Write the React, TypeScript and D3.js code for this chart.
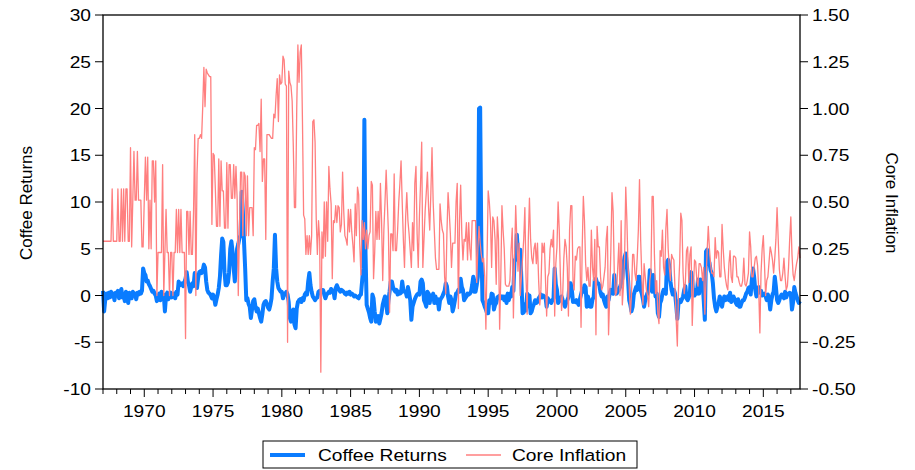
import React from "react";
import * as d3 from "d3";

// Monthly observations, 1967:01 – 2017:09
const coffee1960s = [
  0.5, -1.7, -0.4, 0.2, -0.3, 0.3, -0.2, 0.4, -0.1, 0.2, -0.5, 0.3,
  0.0, 0.5, -0.3, 0.2, 0.7, -0.2, 0.1, -0.6, 0.4, 0.1, -0.8, 0.3,
  0.2, -0.3, 0.4, 0.0, 0.2, -0.4, 0.3, 0.1, 0.4, 0.2, 0.5, 2.9,
];
const coffee1970s = [
  2.4, 2.2, 1.5, 1.6, 1.2, 1.0, 0.7, 0.4, 0.5, 0.2, 0.0, -0.6,
  -0.3, 0.2, -0.5, 0.4, -0.2, 0.1, -1.7, 0.0, 0.3, -0.4, 0.1, 0.3,
  -0.2, 0.0, 0.2, -0.3, 0.4, 0.1, 1.5, 1.1, 1.2, 1.3, 1.0, 1.4,
  1.8, 2.5, 1.5, 1.1, 0.4, 0.9, 1.3, 1.0, 2.4, 1.5, 0.8, 1.9,
  2.5, 2.6, 2.4, 2.7, 3.3, 3.0, 1.5, 0.6, 0.3, 0.2, 0.0, -0.3,
  0.1, -0.3, -1.0, -0.4, 0.1, 0.8, 2.0, 4.3, 6.1, 5.7, 2.5, 1.1,
  1.1, 1.4, 2.5, 5.0, 5.8, 4.7, 2.9, 1.5, 3.5, 5.0, 5.5, 6.1,
  6.5, 11.1, 9.0, 5.8, 2.9, -0.5, -0.3, -0.9, -1.2, -2.4, -1.5, -0.6,
  -0.4, -1.2, -1.7, -1.4, -1.9, -2.4, -2.8, -2.0, -1.0, -0.7, -0.6, -0.9,
  -1.3, -1.5, -1.0, -0.3, 1.5, 2.9, 6.5, 2.9, 1.5, 0.8, 0.6, 0.4,
];
const coffee1980s = [
  0.4, -0.3, 0.1, 0.2, 0.4, 0.1, -0.7, -2.4, -2.8, -1.7, -1.5, -3.1,
  -3.5, -1.4, -0.7, -0.5, -0.4, -0.7, -0.3, -0.5, 0.1, 0.3, 0.1, 1.5,
  2.4, 1.1, 0.4, -0.1, -0.3, -0.5, -0.3, -0.2, 0.4, 0.5, 0.4, 0.6,
  0.6, 0.1, -0.3, 0.1, 0.2, 0.4, 0.3, 0.7, 0.4, 0.5, -0.3, 0.8,
  1.1, 0.8, 0.6, 0.4, 0.6, 0.5, 0.4, 0.2, 0.1, 0.3, 0.2, 0.4,
  0.1, 0.2, 0.1, -0.1, 0.0, -0.1, -0.2, -0.3, 0.0, 0.1, 1.5, 2.9,
  18.8, 4.5, -1.0, -1.4, -1.8, -2.4, -2.8, 0.1, -0.3, -1.7, -2.8, -2.4,
  -2.2, -3.0, -2.5, -1.9, -1.0, -0.5, -0.1, -0.8, -1.9, -0.5, 0.4, 1.5,
  1.5, 0.9, 0.6, 0.4, 0.6, 0.1, 0.4, 0.2, 0.3, 1.5, 0.6, 0.4,
  0.4, -0.1, 0.9, 0.3, -0.5, -2.6, -1.2, -0.8, -0.4, -0.1, 0.1, 0.2,
];
const coffee1990s = [
  0.1, 1.5, 1.7, 1.3, -0.5, -0.8, -1.2, 0.4, 0.2, -0.8, 0.0, -0.3,
  0.2, -0.8, -0.1, -0.8, -0.4, -1.5, -0.5, -0.3, -0.1, 0.2, 0.5, 1.3,
  1.0, -0.1, -0.8, -0.1, -0.5, -1.7, -1.2, -0.5, 0.2, 0.3, 0.6, 0.4,
  1.8, 0.9, 0.6, -0.5, -0.3, -0.1, 0.2, 0.1, 0.2, 0.4, 1.1, 2.0,
  0.4, 0.4, 1.1, 2.0, 20.0, 20.1, 5.9, -0.5, -0.8, -1.2, -1.5, -1.9,
  -1.9, -0.5, -0.8, 0.2, 0.1, -1.5, -1.0, -0.8, -0.2, -0.1, 0.0, -0.3,
  -0.1, -0.1, -0.5, -0.1, -0.8, 0.2, -0.5, 0.2, -0.1, 0.9, 0.5, 3.8,
  3.8, 6.5, 4.5, 3.8, 4.9, 1.5, -1.9, -1.8, -0.9, -1.6, 0.2, 0.0,
  0.0, -1.9, -1.7, -1.2, -0.9, -0.5, -0.8, -0.7, -0.3, -0.1, 0.1, -0.2,
  0.0, -0.1, -0.2, -1.2, -0.3, -0.5, -0.6, -0.8, -0.5, -0.3, 2.9, 1.2,
];
const coffee2000s = [
  0.6, -0.8, -0.6, -0.5, -0.1, -0.5, -0.8, -1.2, -0.8, -0.5, -0.2, 1.3,
  1.3, 0.6, -0.7, -0.6, -0.7, -0.5, -0.8, -1.0, -0.4, 0.1, 0.6, 0.4,
  1.1, 0.9, -1.2, -0.1, -0.6, -1.2, -1.2, -0.4, -0.2, 1.7, 1.8, 1.3,
  1.3, 1.1, 0.3, -0.1, 0.1, -0.5, -0.9, -1.2, -0.1, -0.5, 0.2, 0.6,
  0.3, 0.2, 2.2, 0.9, 0.2, 0.4, 0.6, 0.9, 1.3, 1.8, 3.4, 4.1,
  4.5, 3.1, 1.7, -0.5, -1.0, -1.7, -1.2, 0.1, 0.5, 0.9, 0.6, 2.0,
  2.0, 0.6, 0.2, -0.4, -1.2, -0.5, -0.1, 0.3, 0.6, 2.7, 1.3, 0.4,
  2.2, 1.0, -0.1, 0.2, -1.9, -2.3, -0.8, -0.5, 0.2, 0.6, 0.3, 0.2,
  3.6, 3.8, 3.1, 1.5, 0.6, 0.1, 0.6, 0.2, -1.0, -2.5, -0.8, -0.5,
  -0.7, -0.4, -0.1, 0.6, 1.0, -0.3, -0.5, -0.2, 0.3, 2.5, 1.7, 0.0,
];
const coffee2010s = [
  0.0, 0.6, 0.2, 1.7, 0.2, 1.7, 1.0, 1.7, -0.5, -2.6, 4.7, 4.9,
  3.8, 3.5, 2.7, 2.4, 1.3, -0.3, -1.2, -1.7, -1.2, -0.8, -0.1, -0.5,
  -1.2, -0.5, -0.1, -0.5, -0.3, -0.1, -0.5, 0.3, -0.7, -0.5, -0.1, -0.4,
  -0.8, -1.0, -0.4, -1.2, -1.2, -0.8, -0.5, -0.5, -0.2, 0.2, 0.4, 0.8,
  0.9, 0.1, 1.7, 2.9, 2.0, 0.6, -0.1, 0.6, 0.9, 0.3, 0.5, 0.0,
  0.1, 0.2, -0.1, -0.5, 0.1, -0.3, -1.5, -0.5, 0.1, 0.4, 2.0, 0.9,
  -0.5, -0.8, -0.5, -0.1, 0.1, -0.1, -0.3, 0.4, -0.2, 0.1, 0.2, 0.3,
  0.2, -1.5, -0.7, 0.9, 0.3, -0.1, -0.5, -0.8, -0.6,
];

const inflation1960s = [
  0.29, 0.29, 0.29, 0.29, 0.29, 0.29, 0.29, 0.29, 0.57, 0.29, 0.29, 0.29,
  0.29, 0.57, 0.29, 0.29, 0.57, 0.29, 0.57, 0.29, 0.57, 0.57, 0.29, 0.29,
  0.79, 0.26, 0.51, 0.77, 0.51, 0.51, 0.77, 0.51, 0.51, 0.51, 0.26, 0.26,
];
const inflation1970s = [
  0.51, 0.74, 0.51, 0.74, 0.25, 0.51, 0.25, 0.72, 0.72, 0.5, 0.72, 0.0,
  0.23, 0.23, 0.23, 0.23, 0.7, 0.0, 0.23, 0.46, 0.23, 0.23, 0.0, 0.23,
  0.23, 0.0, 0.23, 0.23, 0.46, 0.23, 0.46, 0.23, 0.46, 0.23, 0.23, 0.23,
  -0.23, 0.45, 0.45, 0.22, 0.45, 0.22, 0.22, 0.45, 0.86, 0.0, 0.65, 0.84,
  0.84, 0.86, 0.84, 1.01, 1.22, 1.01, 1.21, 1.19, 1.18, 1.17, 1.17, 0.38,
  0.76, 0.75, 0.57, 0.37, 0.37, 0.73, 0.37, 0.72, 0.56, 0.56, 0.36, 0.36,
  0.71, 0.36, 0.7, 0.7, 0.52, 0.52, 0.7, 0.52, 0.69, 0.52, 0.0, 0.34,
  0.66, 0.66, 0.32, 0.66, 0.64, 0.32, 0.64, 0.32, 0.47, 0.47, 0.47, 0.32,
  0.79, 0.78, 0.91, 0.91, 0.92, 0.77, 1.05, 0.61, 0.73, 0.73, 0.3, 0.86,
  0.86, 0.86, 0.85, 0.84, 0.84, 0.97, 0.95, 1.07, 1.16, 0.93, 1.18, 1.13,
];
const inflation1980s = [
  1.14, 1.28, 1.26, 1.13, 1.12, -0.25, 1.2, 1.14, 1.12, 1.04, 0.8, 0.47,
  0.47, 1.0, 1.34, 1.14, 1.3, 1.34, 0.93, 0.43, 0.41, 0.22, 0.32, 0.22,
  0.32, 0.22, 0.32, 0.93, 0.94, 0.82, 0.41, 0.22, 0.4, 0.3, -0.41, 0.34,
  0.2, 0.5, 0.21, 0.5, 0.29, 0.69, 0.57, 0.49, 0.09, 0.4, 0.39, 0.48,
  0.39, 0.48, 0.47, 0.34, 0.38, 0.66, 0.45, 0.32, 0.3, 0.27, 0.46, 0.34,
  0.46, 0.34, 0.27, 0.18, 0.49, 0.32, 0.58, 0.54, 0.27, 0.11, 0.4, 0.3,
  0.39, 0.25, 0.35, 0.25, 0.32, 0.34, 0.61, 0.59, 0.09, 0.23, 0.45, 0.3,
  0.45, 0.3, 0.6, 0.4, 0.08, 0.35, 0.5, 0.67, 0.5, 0.33, -0.09, 0.33,
  0.33, 0.24, 0.65, 0.24, 0.24, 0.35, 0.5, 0.6, 0.72, 0.5, 0.3, 0.15,
  0.42, 0.55, 0.4, 0.33, 0.24, 0.15, 0.39, 0.24, 0.6, 0.69, 0.33, 0.15,
];
const inflation1990s = [
  0.42, 0.6, 0.82, 0.15, 0.3, 0.45, 0.55, 0.66, 0.47, 0.35, 0.55, 0.79,
  0.5, 0.35, 0.2, 0.14, 0.14, 0.14, 0.49, 0.4, 0.35, 0.33, 0.1, 0.01,
  0.33, 0.55, 0.45, 0.33, 0.15, 0.28, 0.28, 0.28, 0.5, 0.6, -0.07, 0.4,
  0.59, 0.33, 0.19, 0.3, 0.29, 0.39, 0.19, 0.39, 0.25, 0.19, 0.4, 0.4,
  0.4, 0.4, 0.07, 0.25, 0.37, 0.28, 0.22, 0.18, 0.2, 0.1, -0.18, 0.2,
  0.56, 0.5, 0.4, 0.15, 0.42, 0.4, 0.3, 0.06, 0.42, 0.3, -0.18, 0.1,
  0.48, 0.35, 0.25, 0.06, 0.05, 0.05, 0.05, 0.08, 0.25, 0.36, -0.12, 0.2,
  0.48, 0.3, 0.13, 0.28, 0.0, 0.1, 0.2, 0.3, 0.47, 0.1, -0.1, 0.3,
  0.52, 0.3, 0.2, 0.17, 0.25, 0.28, 0.17, 0.28, 0.08, -0.05, 0.03, 0.28,
  0.23, 0.28, 0.08, -0.11, 0.1, 0.12, 0.25, 0.3, 0.26, 0.35, -0.11, 0.17,
];
const inflation2000s = [
  0.26, 0.5, 0.35, 0.1, -0.08, 0.0, 0.2, 0.3, 0.26, 0.15, -0.11, 0.35,
  0.48, 0.48, 0.08, 0.03, 0.21, 0.19, 0.25, 0.26, 0.26, -0.17, 0.25, 0.53,
  0.4, 0.17, 0.08, 0.15, 0.05, 0.05, 0.35, 0.15, 0.08, 0.3, -0.21, 0.37,
  0.26, 0.26, 0.1, 0.03, 0.05, 0.1, 0.15, 0.3, 0.37, -0.21, 0.0, 0.24,
  0.55, 0.45, 0.12, 0.0, 0.02, 0.15, 0.28, 0.0, 0.4, -0.05, 0.05, 0.2,
  0.58, 0.4, 0.15, 0.05, -0.1, 0.0, 0.22, 0.22, 0.12, 0.08, 0.2, 0.35,
  0.62, 0.3, 0.1, -0.05, 0.17, 0.1, 0.03, 0.0, -0.06, 0.08, 0.13, 0.53,
  0.53, 0.22, 0.01, 0.08, -0.1, -0.15, 0.24, 0.21, 0.35, 0.15, 0.11, 0.36,
  0.46, 0.25, 0.15, 0.08, 0.22, 0.2, 0.19, 0.03, -0.13, -0.27, 0.03, 0.17,
  0.44, 0.4, 0.12, 0.01, 0.07, 0.24, 0.26, 0.07, 0.22, 0.26, -0.16, 0.03,
];
const inflation2010s = [
  0.19, 0.18, 0.08, 0.05, 0.17, 0.17, 0.15, 0.08, 0.15, -0.1, 0.08, 0.24,
  0.37, 0.25, 0.17, 0.12, 0.12, 0.1, 0.31, 0.2, 0.24, 0.23, 0.1, 0.1,
  0.38, 0.25, 0.15, 0.09, 0.05, 0.03, 0.17, 0.24, 0.1, 0.07, 0.21, 0.21,
  0.2, 0.1, 0.1, 0.07, 0.05, 0.05, 0.08, 0.2, 0.06, 0.05, 0.08, 0.12,
  0.34, 0.26, 0.1, 0.1, 0.15, 0.2, 0.21, 0.16, 0.03, -0.2, 0.12, 0.25,
  0.32, 0.17, 0.0, 0.08, 0.1, 0.18, 0.26, 0.23, 0.19, 0.12, 0.2, 0.3,
  0.47, 0.3, 0.14, 0.08, 0.08, 0.12, 0.2, 0.1, 0.03, 0.05, 0.15, 0.3,
  0.42, 0.22, 0.11, 0.08, 0.13, 0.17, 0.2, 0.26, 0.2,
];

const startYear = 1967;
const leftTicks = [-10, -5, 0, 5, 10, 15, 20, 25, 30];
const rightTicks = [-0.5, -0.25, 0, 0.25, 0.5, 0.75, 1.0, 1.25, 1.5];
const yearLabels = [1970, 1975, 1980, 1985, 1990, 1995, 2000, 2005, 2010, 2015];
const seriesNames = ["Coffee Returns", "Core Inflation"];

const coffee = [...coffee1960s, ...coffee1970s, ...coffee1980s, ...coffee1990s, ...coffee2000s, ...coffee2010s];
const inflation = [...inflation1960s, ...inflation1970s, ...inflation1980s, ...inflation1990s, ...inflation2000s, ...inflation2010s];

const W = 915;
const H = 470;
const M = { left: 103, right: 800, top: 15, bottom: 389 };
const BLUE = "#0a7cff";
const RED = "#ff7f7f";
const FONT = "Arial, 'Liberation Sans', sans-serif";
const FS = 17;
const SX = 1.13;

export default function App() {
  const n = Math.min(coffee.length, inflation.length);
  const x = d3.scaleLinear().domain([startYear, startYear + (n - 1) / 12]).range([M.left, M.right]);
  const yL = d3.scaleLinear().domain([-10, 30]).range([M.bottom, M.top]);
  const yR = d3.scaleLinear().domain([-0.5, 1.5]).range([M.bottom, M.top]);

  const lineL = d3.line<number>().x((_, i) => x(startYear + i / 12)).y((d) => yL(d));
  const lineR = d3.line<number>().x((_, i) => x(startYear + i / 12)).y((d) => yR(d));

  const lastYear = Math.floor(startYear + (n - 1) / 12);
  const years = d3.range(startYear, lastYear + 1);

  const txt = (key: string, tx: number, ty: number, s: string, anchor: string, extra: any = {}) => (
    <text
      key={key}
      transform={`translate(${tx},${ty}) scale(${SX},1)`}
      textAnchor={anchor}
      fontSize={FS}
      fontFamily={FONT}
      fill="#000"
      {...extra}
    >
      {s}
    </text>
  );

  return (
    <svg width={W} height={H} style={{ position: "absolute", left: 0, top: 0, background: "#fff" }}>
      <rect x={0} y={0} width={W} height={H} fill="#fff" />
      {/* series */}
      <path d={lineL(coffee.slice(0, n)) || ""} fill="none" stroke={BLUE} strokeWidth={4} strokeLinejoin="round" />
      <path d={lineR(inflation.slice(0, n)) || ""} fill="none" stroke={RED} strokeWidth={1.3} strokeLinejoin="round" />

      {/* frame */}
      <rect x={M.left} y={M.top} width={M.right - M.left} height={M.bottom - M.top} fill="none" stroke="#000" strokeWidth={1.3} />

      {/* left axis */}
      {leftTicks.map((t) => (
        <g key={"l" + t}>
          <line x1={M.left - 8} x2={M.left} y1={yL(t)} y2={yL(t)} stroke="#000" strokeWidth={1} />
          {txt("lt" + t, M.left - 12, yL(t) + 6, String(t), "end")}
        </g>
      ))}
      {/* right axis */}
      {rightTicks.map((t) => (
        <g key={"r" + t}>
          <line x1={M.right} x2={M.right + 8} y1={yR(t)} y2={yR(t)} stroke="#000" strokeWidth={1} />
          {txt("rt" + t, M.right + 12, yR(t) + 6, t.toFixed(2), "start")}
        </g>
      ))}
      {/* bottom axis */}
      {years.map((yr) => (
        <line
          key={"x" + yr}
          x1={x(yr)}
          x2={x(yr)}
          y1={M.bottom}
          y2={M.bottom + (yr % 5 === 0 ? 8 : 5)}
          stroke="#000"
          strokeWidth={1}
        />
      ))}
      {yearLabels.map((yr) => txt("xl" + yr, x(yr), 417, String(yr), "middle"))}

      {/* axis titles */}
      <text transform={`translate(32,203) rotate(-90)`} textAnchor="middle" fontSize={FS} fontFamily={FONT}>
        {"Coffee Returns"}
      </text>
      <text transform={`translate(886,203) rotate(90)`} textAnchor="middle" fontSize={FS} fontFamily={FONT}>
        {"Core Inflation"}
      </text>

      {/* legend */}
      <rect x={263} y={441} width={374} height={27} fill="#fff" stroke="#000" strokeWidth={1} />
      <line x1={270} x2={305} y1={455} y2={455} stroke={BLUE} strokeWidth={4} />
      {txt("lg1", 318, 461, seriesNames[0], "start")}
      <line x1={466} x2={501} y1={455} y2={455} stroke={RED} strokeWidth={1.3} />
      {txt("lg2", 512, 461, seriesNames[1], "start")}
    </svg>
  );
}
